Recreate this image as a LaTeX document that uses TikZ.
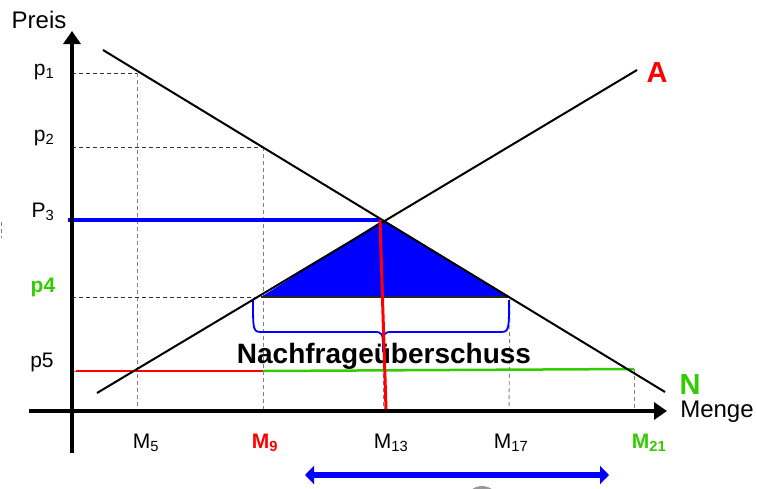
\documentclass[tikz,border=0pt]{standalone}
\usepackage{fontspec}
\setmainfont{Liberation Sans}
\usetikzlibrary{arrows.meta}
\definecolor{gr}{RGB}{51,204,0}
\definecolor{rd}{RGB}{255,0,0}
\definecolor{bl}{RGB}{0,0,255}
\tikzset{
  axisline/.style={line width=4.5pt},
  curve/.style={line width=2pt, black},
  vdash/.style={gray, line width=0.9pt, dash pattern=on 4pt off 3pt},
  hdash/.style={black!80, line width=0.9pt, dash pattern=on 4pt off 3pt},
  lab/.style={inner sep=0pt, font=\fontsize{21}{21}\selectfont},
  blab/.style={inner sep=0pt, font=\fontsize{21}{21}\selectfont\bfseries},
}
\begin{document}
\begin{tikzpicture}[x=1pt,y=-1pt]
\useasboundingbox (0,0) rectangle (757,488);
% gray disc at bottom
\begin{scope}
\clip (0,0) rectangle (757,488);
\fill[gray!80] (482,503) circle (17);
\end{scope}
% coordinates
\coordinate (o) at (72,411);
\coordinate (ybot) at (72,453);
\coordinate (ytop) at (72,31);
\coordinate (xl) at (29,411);
\coordinate (xr) at (667,411);
\foreach \n/\x in {m5/137,m9/263,m13/383,m17/509,m21/634}{\coordinate (\n) at (\x,411);}
\coordinate (e1) at (137,73);
\coordinate (e2) at (263,147);
\coordinate (e3) at (383,220);
\coordinate (e3r) at (380,220);
\coordinate (e4l) at (261,297);
\coordinate (e4r) at (510,297);
\coordinate (e5) at (634,369);
\coordinate (s9) at (263,371);
% small artifact
\draw[vdash] (1,222) -- (1,238);
% dashed guides
\draw[vdash] (e1) -- (m5);
\draw[vdash] (e2) -- (m9);
\draw[vdash] (e3) -- (m13);
\draw[vdash] (e4r) -- (m17);
\draw[vdash] (e5) -- (m21);
\draw[hdash] (72,73) -- (e1);
\draw[hdash] (72,147) -- (e2);
\draw[hdash] (72,297) -- (e4l);
\draw[hdash] (515,369) -- (e5);
\draw[gray, line width=0.8pt] (72,371) -- (263,371);
% triangle
\fill[bl] (e3) -- (e4l) -- (e4r) -- cycle;
\draw[line width=1.2pt, black!85] (e4l) -- (e4r);
% price lines
\draw[bl, line width=3.5pt] (68,220) -- (e3r);
\draw[rd, line width=2.5pt] (76,371) -- (s9);
\draw[gr, line width=2.5pt] (s9) -- (e5);
% curves
\draw[curve] (103,50) -- (665,392);
\draw[curve] (97,393) -- (637,70);
% brace
\draw[bl, line width=1.8pt] (253,300) .. controls (253,332) .. (263,332) -- (373,332) .. controls (383,332) .. (383,352) .. controls (383,332) .. (393,332) -- (499,332) .. controls (509,332) .. (509,300);
% text
\node[inner sep=0pt, font=\fontsize{28}{28}\selectfont\bfseries] (txt) at (384,356) {Nachfrageüberschuss};
% red line
\draw[rd, line width=3pt] (e3r) -- (386,409);
% axes
\draw[axisline, -{Triangle[length=13pt,width=17pt]}] (ybot) -- (ytop);
\draw[axisline, -{Triangle[length=13pt,width=17pt]}] (xl) -- (xr);
% blue double arrow
\coordinate (ba) at (305,475);
\coordinate (bb) at (609,475);
\draw[bl, line width=6pt, {Triangle[length=9pt,width=18pt]}-{Triangle[length=9pt,width=18pt]}] (ba) -- (bb);
% labels
\node[inner sep=0pt, font=\fontsize{24}{24}\selectfont] (preis) at (39,20) {Preis};
\node[lab] (p1) at (44,72) {p\textsubscript{1}};
\node[lab] (p2) at (44,138) {p\textsubscript{2}};
\node[lab] (p3) at (43,212) {P\textsubscript{3}};
\node[blab, text=gr] (p4) at (43,287) {p4};
\node[lab] (p5) at (42,362) {p5};
\node[lab] (M5) at (146,443) {M\textsubscript{5}};
\node[blab, text=rd] (M9) at (265,443) {M\textsubscript{9}};
\node[lab] (M13) at (391,443) {M\textsubscript{13}};
\node[lab] (M17) at (511,443) {M\textsubscript{17}};
\node[blab, text=gr] (M21) at (649,443) {M\textsubscript{21}};
\node[inner sep=0pt, font=\fontsize{29}{29}\selectfont\bfseries, text=rd] (A) at (657,73) {A};
\node[inner sep=0pt, font=\fontsize{29}{29}\selectfont\bfseries, text=gr] (N) at (690,385) {N};
\node[inner sep=0pt, font=\fontsize{24}{24}\selectfont] (menge) at (717,412) {Menge};
\end{tikzpicture}
\end{document}
